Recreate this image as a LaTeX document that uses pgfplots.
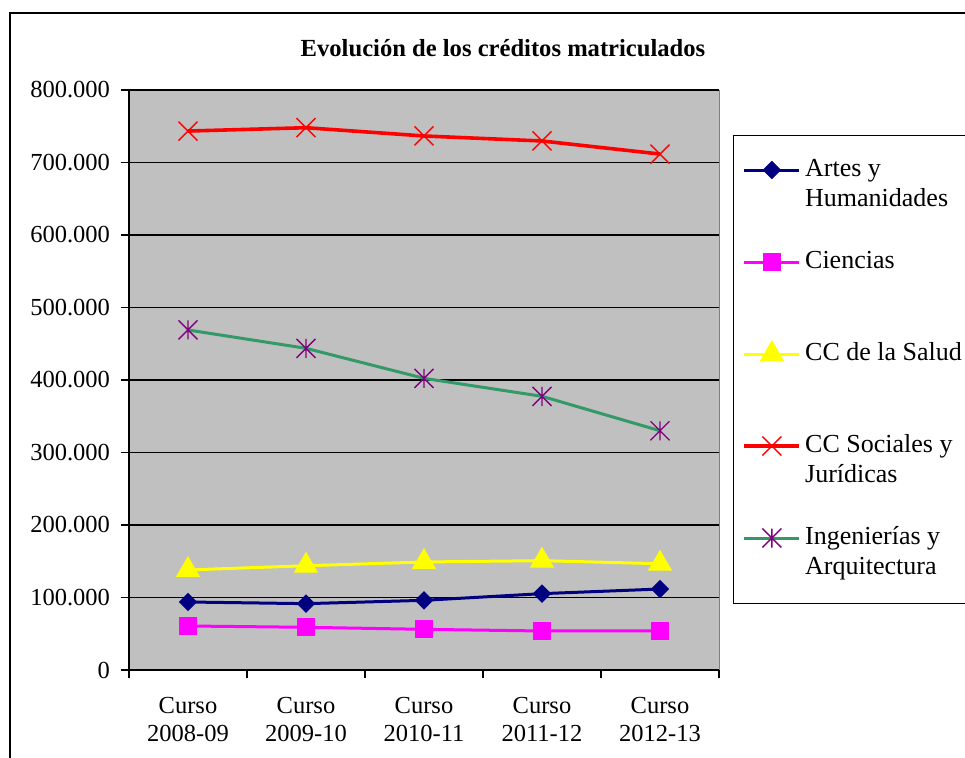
\documentclass[border=0pt]{standalone}
\usepackage{fontspec}
\setmainfont{Liberation Serif}
\usepackage{pgfplots}
\usepackage{pgfplotstable}
\pgfplotsset{compat=1.18}

\definecolor{artes}{RGB}{0,0,128}
\definecolor{ciencias}{RGB}{255,0,255}
\definecolor{salud}{RGB}{255,255,0}
\definecolor{sociales}{RGB}{255,0,0}
\definecolor{ingenieria}{RGB}{51,153,102}
\definecolor{ingmark}{RGB}{128,0,128}
\definecolor{plotbg}{RGB}{192,192,192}

% Excel-like markers
\pgfdeclareplotmark{xdiamond*}{%
  \pgfpathmoveto{\pgfqpoint{0pt}{\pgfplotmarksize}}%
  \pgfpathlineto{\pgfqpoint{\pgfplotmarksize}{0pt}}%
  \pgfpathlineto{\pgfqpoint{0pt}{-\pgfplotmarksize}}%
  \pgfpathlineto{\pgfqpoint{-\pgfplotmarksize}{0pt}}%
  \pgfpathclose\pgfusepathqfillstroke}
\pgfdeclareplotmark{xcross}{%
  \pgfpathmoveto{\pgfqpoint{-\pgfplotmarksize}{-\pgfplotmarksize}}%
  \pgfpathlineto{\pgfqpoint{\pgfplotmarksize}{\pgfplotmarksize}}%
  \pgfpathmoveto{\pgfqpoint{-\pgfplotmarksize}{\pgfplotmarksize}}%
  \pgfpathlineto{\pgfqpoint{\pgfplotmarksize}{-\pgfplotmarksize}}%
  \pgfusepathqstroke}
\pgfdeclareplotmark{xstar}{%
  \pgfpathmoveto{\pgfqpoint{-\pgfplotmarksize}{-\pgfplotmarksize}}%
  \pgfpathlineto{\pgfqpoint{\pgfplotmarksize}{\pgfplotmarksize}}%
  \pgfpathmoveto{\pgfqpoint{-\pgfplotmarksize}{\pgfplotmarksize}}%
  \pgfpathlineto{\pgfqpoint{\pgfplotmarksize}{-\pgfplotmarksize}}%
  \pgfpathmoveto{\pgfqpoint{0pt}{-\pgfplotmarksize}}%
  \pgfpathlineto{\pgfqpoint{0pt}{\pgfplotmarksize}}%
  \pgfusepathqstroke}

\pgfplotstableread{
x artes ciencias salud sociales ingenierias
0 93800  60700 138000 743400 469000
1 91500  58900 143800 748000 443700
2 96100  56100 149000 736600 402300
3 105300 53800 150800 729700 377500
4 111700 53800 146600 711700 330000
}\creditos

\begin{document}
\begin{tikzpicture}
\useasboundingbox (0,0) rectangle (482.5pt,-379pt);
\clip (0,0) rectangle (482.5pt,-379pt);
\draw[black, line width=0.8pt] (5pt,-6.5pt) rectangle (520pt,-420pt);
\node[font=\fontsize{12.3}{14}\selectfont\bfseries] at (251.5pt,-24pt) {Evolución de los créditos matriculados};
\begin{axis}[
    at={(64.5pt,-335pt)}, anchor=south west,
    scale only axis,
    width=295pt, height=290pt,
    xmin=-0.5, xmax=4.5,
    ymin=0, ymax=800000,
    axis x line*=bottom, axis y line*=left,
    axis line style={black, line width=0.6pt},
    axis background/.style={fill=plotbg, draw=gray},
    ymajorgrids,
    grid style={black, line width=0.6pt},
    tick align=outside,
    xtick={0,1,2,3,4},
    xticklabels={{Curso\\2008-09},{Curso\\2009-10},{Curso\\2010-11},{Curso\\2011-12},{Curso\\2012-13}},
    minor xtick={-0.5,0.5,1.5,2.5,3.5,4.5},
    major x tick style={draw=none},
    minor tick length=4pt,
    major tick length=4pt,
    tick style={black, line width=0.6pt},
    ytick={0,100000,200000,300000,400000,500000,600000,700000,800000},
    yticklabels={0,100.000,200.000,300.000,400.000,500.000,600.000,700.000,800.000},
    scaled y ticks=false,
    /pgf/number format/assume math mode=true,
    xticklabel style={align=center, font=\fontsize{12.25}{14}\selectfont, yshift=-6pt},
    yticklabel style={font=\fontsize{12.25}{14}\selectfont, xshift=-2pt},
    legend style={
        at={(1.0237,0.9224)}, anchor=north west,
        draw=black, fill=white, line width=0.6pt,
        font=\fontsize{13}{15}\selectfont,
        inner xsep=4.5pt, inner ysep=10pt,
        row sep=16pt,
        nodes={inner sep=0pt, text depth=, text height=},
        cells={anchor=base west},
        /tikz/every odd column/.append style={column sep=2pt},
    },
    legend image code/.code={%
        \draw[mark repeat=2,mark phase=2] plot coordinates {(0pt,3.3pt)(13.75pt,3.3pt)(27.5pt,3.3pt)};},
]
\addplot[artes, line width=1.5pt, mark=xdiamond*, mark size=4.25pt,
    mark options={solid, fill=artes, draw=artes, line width=0.5pt}]
    table[x=x, y=artes] {\creditos};
\addlegendentry{\begin{tabular}[t]{@{}l@{}}Artes y\\Humanidades\end{tabular}}
\addplot[ciencias, line width=1.5pt, mark=square*, mark size=4.25pt,
    mark options={solid, fill=ciencias, draw=ciencias, line width=0.5pt}]
    table[x=x, y=ciencias] {\creditos};
\addlegendentry{\begin{tabular}[t]{@{}l@{}}Ciencias\\\mbox{}\end{tabular}}
\addplot[salud, line width=1.5pt, mark=triangle*, mark size=6.5pt,
    mark options={solid, fill=salud, draw=salud, line width=0.5pt}]
    table[x=x, y=salud] {\creditos};
\addlegendentry{\begin{tabular}[t]{@{}l@{}}CC de la Salud\\\mbox{}\end{tabular}}
\addplot[sociales, line width=1.8pt, mark=xcross, mark size=4.75pt,
    mark options={solid, draw=sociales, line width=0.7pt}]
    table[x=x, y=sociales] {\creditos};
\addlegendentry{\begin{tabular}[t]{@{}l@{}}CC Sociales y\\Jurídicas\end{tabular}}
\addplot[ingenieria, line width=1.5pt, mark=xstar, mark size=4.75pt,
    mark options={solid, draw=ingmark, line width=0.7pt}]
    table[x=x, y=ingenierias] {\creditos};
\addlegendentry{\begin{tabular}[t]{@{}l@{}}Ingenierías y\\Arquitectura\end{tabular}}
\end{axis}
\end{tikzpicture}
\end{document}
